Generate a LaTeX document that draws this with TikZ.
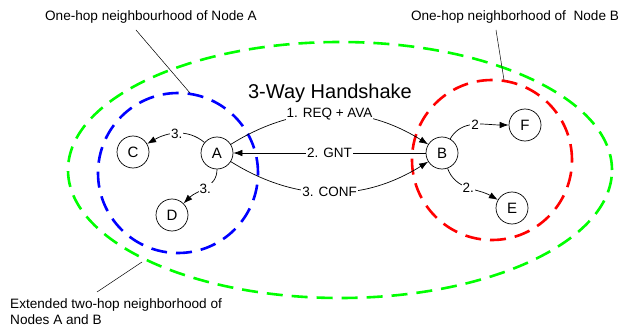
\documentclass[tikz,border=0pt]{standalone}
\usepackage{fontspec}
\setmainfont{Liberation Sans}
\usetikzlibrary{arrows.meta,positioning}

\begin{document}
\begin{tikzpicture}[
    x=1pt,y=1pt,
    >={Latex[length=9pt,width=6.5pt]},
    station/.style={circle,draw,line width=0.7pt,minimum size=32pt,inner sep=0pt,font=\fontsize{15}{15}\selectfont},
    hood/.style={line width=2.6pt,dash pattern=on 16pt off 9pt},
    lbl/.style={fill=white,inner sep=1pt},
    note/.style={inner sep=0pt,font=\fontsize{13.6}{16}\selectfont},
    link/.style={->,line width=0.7pt},
    every node/.style={font=\fontsize{13.5}{15}\selectfont}]
  \useasboundingbox (0,0) rectangle (635,330);
  % ---- neighbourhoods ----
  \draw[hood,green] (340,160) ellipse [x radius=272,y radius=128];
  \draw[hood,blue] (178,157) circle [radius=80];
  \draw[hood,red] (492,170) circle [radius=80];
  % ---- stations ----
  \node[station] (A) at (217,177) {A};
  \node[station] (C) at (133,178) {C};
  \node[station] (D) at (172,115) {D};
  \node[station] (B) at (442,177) {B};
  \node[station] (F) at (525,205) {F};
  \node[station] (E) at (512,122) {E};
  \node[font=\fontsize{20}{22}\selectfont] (title) at (330,237) {3-Way Handshake};
  % ---- handshake ----
  \draw[link] (A) to[out=140,in=30] node[lbl] {3.} (C);
  \draw[link] (A) to[out=-90,in=45] node[lbl] {3.} (D);
  \draw[link] (A) to[bend left=32] node[lbl] {1. REQ + AVA} (B);
  \draw[link] (B) -- node[lbl] {2. GNT} (A);
  \draw[link] (A) to[bend right=32] node[lbl] {3. CONF} (B);
  \draw[link] (B) to[out=60,in=180] node[lbl] {2} (F);
  \draw[link] (B) to[out=-70,in=150] node[lbl] {2.} (E);
  % ---- notes ----
  \node[note] (hoodA) at (151,313) {One-hop neighbourhood of Node A};
  \node[note] (hoodB) at (515,313) {One-hop neighborhood of\ \ Node B};
  \node[note,align=left,anchor=north west] (ext) at (10,32) {Extended two-hop neighborhood of\\Nodes A and B};
  \coordinate (footA) at (136,300);
  \coordinate (tipA) at (190,237);
  \coordinate (footB) at (496,300);
  \coordinate (tipB) at (504,250);
  \coordinate (footE) at (97,38);
  \coordinate (tipE) at (142,68);
  \draw[line width=0.5pt] (footA) -- (tipA);
  \draw[line width=0.5pt] (footB) -- (tipB);
  \draw[line width=0.5pt] (footE) -- (tipE);
\end{tikzpicture}
\end{document}
